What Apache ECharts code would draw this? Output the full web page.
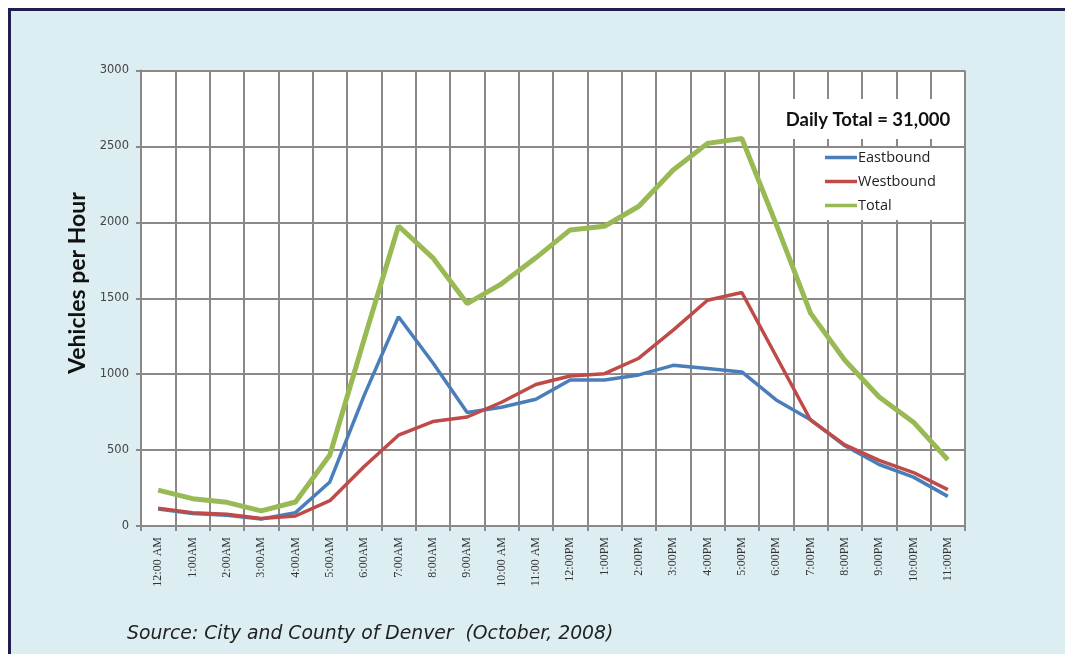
<!DOCTYPE html>
<html>
<head>
<meta charset="utf-8">
<script src="https://cdn.jsdelivr.net/npm/echarts@6/dist/echarts.min.js"></script>
<style>
html,body{margin:0;padding:0;background:#fff;}
#chart{width:1065px;height:654px;}
</style>
</head>
<body>
<div id="chart"></div>
<script>
const hours = ['12:00 AM','1:00AM','2:00AM','3:00AM','4:00AM','5:00AM','6:00AM','7:00AM','8:00AM','9:00AM','10:00 AM','11:00 AM',
  '12:00PM','1:00PM','2:00PM','3:00PM','4:00PM','5:00PM','6:00PM','7:00PM','8:00PM','9:00PM','10:00PM','11:00PM'];
const eastbound = [112, 82, 70, 46, 88, 290, 860, 1378, 1075, 748, 782, 835, 962, 962, 995, 1058, 1038, 1015, 830, 700, 528, 405, 322, 195];
const westbound = [117, 88, 78, 50, 66, 167, 392, 598, 688, 718, 815, 932, 988, 1003, 1105, 1290, 1487, 1538, 1118, 698, 534, 432, 352, 240];
const total = [236, 180, 156, 100, 158, 468, 1230, 1976, 1766, 1465, 1595, 1766, 1950, 1974, 2106, 2345, 2520, 2552, 1988, 1402, 1092, 850, 684, 436];
const yTicks = {min: 0, max: 3000, interval: 500};
const legendNote = 'Daily Total = 31,000';
const yTitle = 'Vehicles per Hour';
const source = 'Source: City and County of Denver  (October, 2008)';

const gridCol = '#8c8888';
const chart = echarts.init(document.getElementById('chart'), null, {renderer: 'canvas'});
chart.setOption({
  animation: false,
  backgroundColor: '#ffffff',
  graphic: [
    {type: 'rect', z: -100, shape: {x: 9.5, y: 9.5, width: 1100, height: 700},
      style: {fill: '#ddeef3', stroke: '#1e1e50', lineWidth: 3}},
    {type: 'rect', z: 3, shape: {x: 780, y: 99, width: 182, height: 40}, style: {fill: '#ffffff'}},
    {type: 'rect', z: 3, shape: {x: 795, y: 148, width: 169, height: 72}, style: {fill: '#ffffff'}},
    {type: 'text', z: 5, x: 868, y: 120, style: {text: legendNote, fontFamily: 'Lato', fontWeight: 'bold', fontSize: 18.5,
      fill: '#111', align: 'center', verticalAlign: 'middle'}},
    {type: 'text', z: 5, x: 78, y: 283, rotation: Math.PI / 2, style: {text: yTitle, fontFamily: 'Lato', fontWeight: 'bold',
      fontSize: 23, fill: '#111', align: 'center', verticalAlign: 'middle'}},
    {type: 'text', z: 5, x: 127, y: 634, style: {text: source, fontFamily: 'DejaVu Sans', fontStyle: 'italic', fontSize: 18.8,
      fill: '#222', align: 'left', verticalAlign: 'middle'}}
  ],
  grid: {left: 141, right: 100, top: 70.5, bottom: 128, show: true, backgroundColor: '#ffffff', borderWidth: 0},
  legend: {
    left: 825, top: 150, orient: 'vertical', padding: 0,
    icon: 'rect', itemWidth: 32, itemHeight: 3.5, itemGap: 9,
    textStyle: {fontFamily: 'Open Sans', fontSize: 14.5, color: '#222', padding: [0, 0, 0, -4]},
    data: ['Eastbound', 'Westbound', 'Total']
  },
  xAxis: {
    type: 'category', data: hours, boundaryGap: true,
    axisLine: {lineStyle: {color: gridCol, width: 2}},
    axisTick: {show: true, length: 5, inside: false, lineStyle: {color: gridCol, width: 2}},
    axisLabel: {rotate: 90, margin: 11, fontFamily: 'Liberation Serif', fontSize: 12, color: '#333', interval: 0},
    splitLine: {show: true, interval: 0, lineStyle: {color: gridCol, width: 2}}
  },
  yAxis: {
    type: 'value', min: yTicks.min, max: yTicks.max, interval: yTicks.interval,
    axisLine: {show: true, lineStyle: {color: gridCol, width: 2}},
    axisTick: {show: true, length: 5, lineStyle: {color: gridCol, width: 2}},
    axisLabel: {margin: 12, fontFamily: 'DejaVu Sans', fontSize: 11.5, color: '#444', formatter: v => String(v)},
    splitLine: {show: true, lineStyle: {color: gridCol, width: 2}}
  },
  series: [
    {name: 'Eastbound', type: 'line', data: eastbound, symbol: 'none', z: 3,
      lineStyle: {color: '#4a7ebb', width: 3.5}, itemStyle: {color: '#4a7ebb'}},
    {name: 'Westbound', type: 'line', data: westbound, symbol: 'none', z: 4,
      lineStyle: {color: '#be4b48', width: 3.5}, itemStyle: {color: '#be4b48'}},
    {name: 'Total', type: 'line', data: total, symbol: 'none', z: 5,
      lineStyle: {color: '#98b954', width: 5}, itemStyle: {color: '#98b954'}}
  ]
});
</script>
</body>
</html>
